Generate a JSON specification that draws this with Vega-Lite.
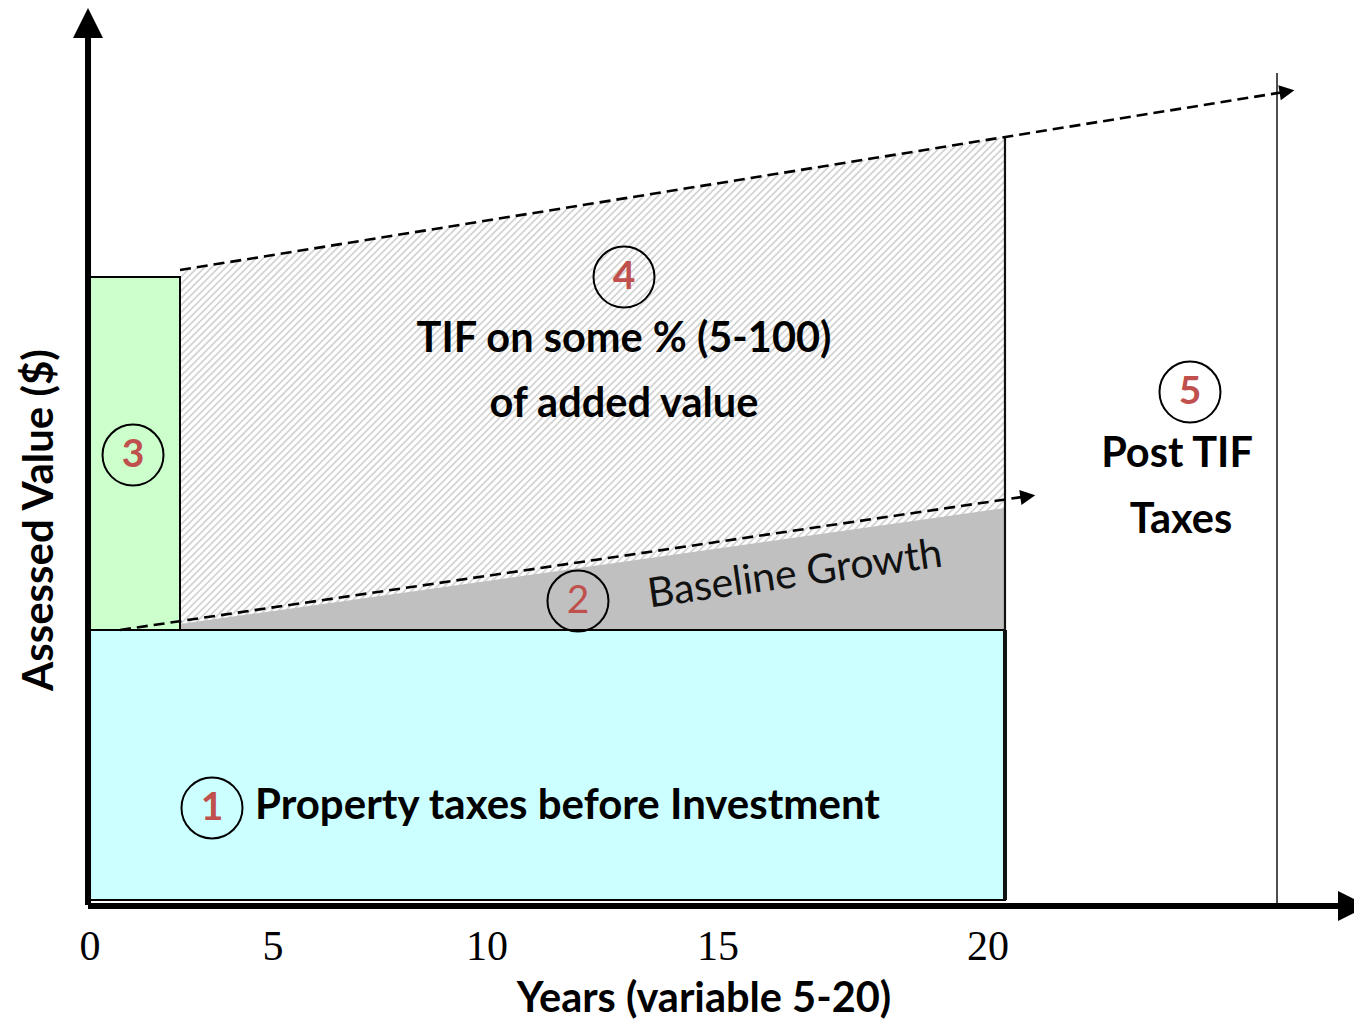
{
  "$schema": "https://vega.github.io/schema/vega-lite/v6.json",
  "width": 1354,
  "height": 1024,
  "autosize": {"type": "none"},
  "padding": 0,
  "background": "white",
  "config": {"view": {"stroke": null}},
  "datasets": {
    "stripes": [
      {"x": 3.6, "y": 95.89, "x2": 18.711, "y2": 20.33}
    ],
    "maskTop": [
      {"x": 2.0, "y": 70.56, "y2": 100.56},
      {"x": 20.333, "y": 85.33, "y2": 100.56}
    ],
    "masks": [
      {"x": -2, "x2": 2.0, "y": -13.222, "y2": 100.56},
      {"x": 20.333, "x2": 28.089, "y": -13.222, "y2": 100.56},
      {"x": -2, "x2": 28.089, "y": -13.222, "y2": 30.56}
    ],
    "grey": [
      {"x": 2.0, "y": 31.22, "y2": 30.56},
      {"x": 20.333, "y": 44.11, "y2": 30.56}
    ],
    "rects": [
      {"name": "green", "x": 0, "x2": 2.0, "y": 30.56, "y2": 69.78},
      {"name": "cyan", "x": 0, "x2": 20.333, "y": 0.556, "y2": 30.56}
    ],
    "vlineMid": [
      {"x": 20.333, "y": 0.556, "y2": 85.33}
    ],
    "vlineThick": [
      {"x": 20.333, "y": 0.556, "y2": 30.56}
    ],
    "vlineThin": [
      {"x": 26.378, "y": 0, "y2": 92.44}
    ],
    "dashed": [
      {"line": "top", "x": 2.0, "y": 70.56},
      {"line": "top", "x": 26.467, "y": 90.28},
      {"line": "base", "x": 0.667, "y": 30.56},
      {"line": "base", "x": 20.689, "y": 45.32}
    ],
    "arrows": [
      {"x": 26.6, "y": 90.39, "angle": -9.2},
      {"x": 20.84, "y": 45.4, "angle": -8.4}
    ],
    "axes": [
      {"x": -0.044, "y": 0, "x2": -0.044, "y2": 96.33},
      {"x": -0.044, "y": -0.111, "x2": 27.78, "y2": -0.111}
    ],
    "axisHeads": [
      {"x": -0.044, "y": 98.0, "dir": "up"},
      {"x": 28.067, "y": -0.111, "dir": "right"}
    ],
    "circles": [
      {"n": "1", "x": 2.711, "y": 10.78},
      {"n": "2", "x": 10.844, "y": 33.78},
      {"n": "3", "x": 0.956, "y": 50.0},
      {"n": "4", "x": 11.867, "y": 69.78},
      {"n": "5", "x": 24.444, "y": 57.0}
    ],
    "boldCenter": [
      {"t": "TIF on some % (5-100)", "x": 11.867, "y": 62.78},
      {"t": "of added value", "x": 11.867, "y": 55.56},
      {"t": "Post TIF", "x": 24.156, "y": 50.0},
      {"t": "Taxes", "x": 24.244, "y": 42.67},
      {"t": "Years (variable 5-20)", "x": 13.644, "y": -10.556}
    ],
    "boldLeft": [
      {"t": "Property taxes before Investment", "x": 3.667, "y": 11.0}
    ],
    "ticks": [
      {"t": "0", "x": 0.0, "y": -4.667},
      {"t": "5", "x": 4.067, "y": -4.667},
      {"t": "10", "x": 8.822, "y": -4.667},
      {"t": "15", "x": 13.956, "y": -4.667},
      {"t": "20", "x": 19.956, "y": -4.667}
    ],
    "ytitle": [
      {"t": "Assessed Value ($)", "x": -1.111, "y": 42.78}
    ],
    "baseline": [
      {"t": "Baseline Growth", "x": 15.667, "y": 36.67}
    ]
  },
  "encoding": {
    "x": {"field": "x", "type": "quantitative", "scale": {"domain": [-2, 28.089], "nice": false, "zero": false}, "axis": null},
    "y": {"field": "y", "type": "quantitative", "scale": {"domain": [-13.222, 100.56], "nice": false, "zero": false}, "axis": null}
  },
  "layer": [
    {
      "data": {"name": "stripes"},
      "mark": {"type": "rule", "color": "#d4d4d4", "strokeWidth": 950, "strokeDash": [1.8, 3.2], "strokeCap": "butt"},
      "encoding": {"x2": {"field": "x2"}, "y2": {"field": "y2"}}
    },
    {
      "data": {"name": "maskTop"},
      "mark": {"type": "area", "color": "white", "opacity": 1},
      "encoding": {"y2": {"field": "y2"}}
    },
    {
      "data": {"name": "masks"},
      "mark": {"type": "rect", "color": "white", "opacity": 1},
      "encoding": {"x2": {"field": "x2"}, "y2": {"field": "y2"}}
    },
    {
      "data": {"name": "grey"},
      "mark": {"type": "area", "color": "#c0c0c0", "opacity": 1},
      "encoding": {"y2": {"field": "y2"}}
    },
    {
      "data": {"name": "rects"},
      "mark": {"type": "rect", "stroke": "black", "strokeWidth": 2},
      "encoding": {
        "x2": {"field": "x2"},
        "y2": {"field": "y2"},
        "fill": {"field": "name", "type": "nominal", "scale": {"domain": ["green", "cyan"], "range": ["#ccffcc", "#ccffff"]}, "legend": null}
      }
    },
    {
      "data": {"name": "vlineMid"},
      "mark": {"type": "rule", "color": "#111111", "strokeWidth": 2.2},
      "encoding": {"y2": {"field": "y2"}}
    },
    {
      "data": {"name": "vlineThick"},
      "mark": {"type": "rule", "color": "#111111", "strokeWidth": 4},
      "encoding": {"y2": {"field": "y2"}}
    },
    {
      "data": {"name": "vlineThin"},
      "mark": {"type": "rule", "color": "#222222", "strokeWidth": 1.6},
      "encoding": {"y2": {"field": "y2"}}
    },
    {
      "data": {"name": "dashed"},
      "mark": {"type": "line", "color": "black", "strokeWidth": 2.6, "strokeDash": [11, 6]},
      "encoding": {"detail": {"field": "line", "type": "nominal"}}
    },
    {
      "data": {"name": "arrows"},
      "mark": {"type": "point", "shape": "M-1,-1L1,0L-1,1Z", "filled": true, "color": "black", "opacity": 1, "size": 225},
      "encoding": {"angle": {"field": "angle", "type": "quantitative", "scale": null}}
    },
    {
      "data": {"name": "axes"},
      "mark": {"type": "rule", "color": "black", "strokeWidth": 6},
      "encoding": {"x2": {"field": "x2"}, "y2": {"field": "y2"}}
    },
    {
      "data": {"name": "axisHeads"},
      "transform": [{"filter": "datum.dir == 'up'"}],
      "mark": {"type": "point", "shape": "M0,-1L1,1L-1,1Z", "filled": true, "color": "black", "opacity": 1, "size": 900}
    },
    {
      "data": {"name": "axisHeads"},
      "transform": [{"filter": "datum.dir == 'right'"}],
      "mark": {"type": "point", "shape": "M-1,-1L1,0L-1,1Z", "filled": true, "color": "black", "opacity": 1, "size": 900}
    },
    {
      "data": {"name": "circles"},
      "mark": {"type": "point", "shape": "circle", "filled": false, "color": "black", "strokeWidth": 2, "opacity": 1, "size": 3721}
    },
    {
      "data": {"name": "circles"},
      "transform": [{"filter": "datum.n != '2'"}],
      "mark": {"type": "text", "font": "Lato", "fontWeight": "bold", "fontSize": 39, "color": "#c0504d", "baseline": "middle", "align": "center"},
      "encoding": {"text": {"field": "n"}}
    },
    {
      "data": {"name": "circles"},
      "transform": [{"filter": "datum.n == '2'"}],
      "mark": {"type": "text", "font": "Lato", "fontWeight": "normal", "fontSize": 39, "color": "#c0504d", "baseline": "middle", "align": "center"},
      "encoding": {"text": {"field": "n"}}
    },
    {
      "data": {"name": "boldCenter"},
      "mark": {"type": "text", "font": "Lato", "fontWeight": "bold", "fontSize": 41.5, "color": "black", "baseline": "middle", "align": "center"},
      "encoding": {"text": {"field": "t"}}
    },
    {
      "data": {"name": "boldLeft"},
      "mark": {"type": "text", "font": "Lato", "fontWeight": "bold", "fontSize": 42, "color": "black", "baseline": "middle", "align": "left"},
      "encoding": {"text": {"field": "t"}}
    },
    {
      "data": {"name": "ticks"},
      "mark": {"type": "text", "font": "Liberation Serif", "fontSize": 42, "color": "black", "baseline": "middle", "align": "center"},
      "encoding": {"text": {"field": "t"}}
    },
    {
      "data": {"name": "ytitle"},
      "mark": {"type": "text", "font": "Lato", "fontWeight": "bold", "fontSize": 42, "color": "black", "baseline": "middle", "align": "center", "angle": 270},
      "encoding": {"text": {"field": "t"}}
    },
    {
      "data": {"name": "baseline"},
      "mark": {"type": "text", "font": "Lato", "fontWeight": "normal", "fontSize": 41, "color": "#111111", "baseline": "middle", "align": "center", "angle": -8},
      "encoding": {"text": {"field": "t"}}
    }
  ]
}
